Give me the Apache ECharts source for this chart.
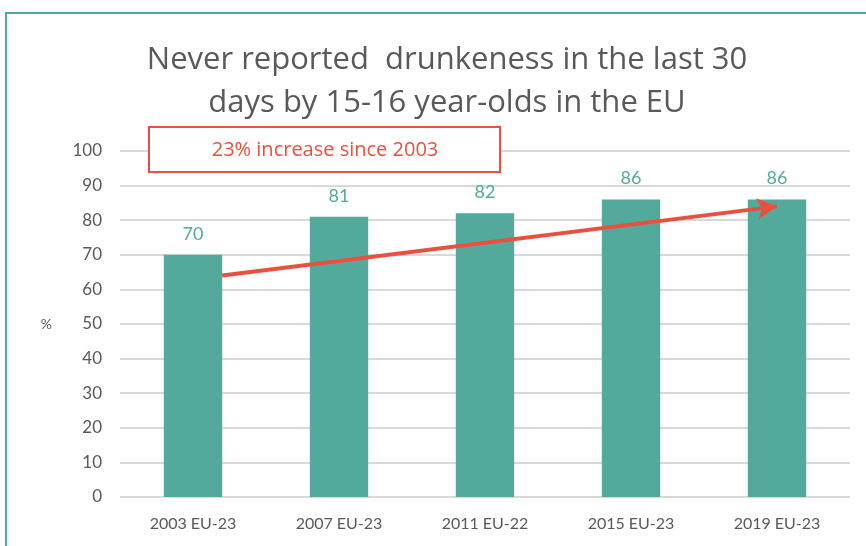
<!DOCTYPE html>
<html>
<head>
<meta charset="utf-8">
<script src="https://cdn.jsdelivr.net/npm/echarts@6/dist/echarts.min.js"></script>
<style>
  html, body { margin: 0; padding: 0; background: #fff; }
  #chart { width: 866px; height: 546px; }
</style>
</head>
<body>
<div id="chart"></div>
<script>
// Survey waves and the share of 15-16 year-olds who never reported drunkenness
const categories = ['2003 EU-23', '2007 EU-23', '2011 EU-22', '2015 EU-23', '2019 EU-23'];
const values = [70, 81, 82, 86, 86];
const yTicks = { min: 0, max: 100, interval: 10 };

// Trend arrow endpoints: [category position, percent]
const trendStart = [0.2, 64];
const trendEnd = [4.0, 84];
const trendNote = '23% increase since 2003';

const TEAL = '#54a99d';
const RED = '#e8513f';
const GREY = '#595959';
const FONT = 'Lato, "Open Sans", sans-serif';
const WIDE = '"Open Sans", Lato, sans-serif';

const chart = echarts.init(document.getElementById('chart'), null, { renderer: 'canvas' });

chart.setOption({
  backgroundColor: '#fff',
  animation: false,
  title: {
    text: 'Never reported  drunkeness in the last 30\ndays by 15-16 year-olds in the EU',
    left: 442,
    textAlign: 'center',
    top: 34,
    textStyle: {
      fontFamily: WIDE,
      fontSize: 31,
      fontWeight: 'normal',
      color: GREY,
      lineHeight: 43
    }
  },
  grid: { left: 120, right: 16, top: 151, bottom: 49, containLabel: false },
  xAxis: [
    {
      type: 'category',
      data: categories,
      axisLine: { show: false },
      axisTick: { show: false },
      axisLabel: { color: GREY, fontFamily: FONT, fontSize: 16, margin: 19 }
    },
    {
      type: 'value',
      min: -0.5,
      max: 4.5,
      show: false
    }
  ],
  yAxis: {
    type: 'value',
    min: yTicks.min,
    max: yTicks.max,
    interval: yTicks.interval,
    name: '%',
    nameLocation: 'middle',
    nameRotate: 0,
    nameGap: 68,
    nameTextStyle: { color: GREY, fontFamily: FONT, fontSize: 14 },
    axisLine: { show: false },
    axisTick: { show: false },
    axisLabel: { color: GREY, fontFamily: FONT, fontSize: 17, margin: 18 },
    splitLine: { lineStyle: { color: '#d9d9d9', width: 2 } }
  },
  series: [
    {
      type: 'bar',
      data: values,
      barWidth: '40%',
      itemStyle: { color: TEAL },
      label: {
        show: true,
        position: 'top',
        distance: 12,
        color: TEAL,
        fontFamily: FONT,
        fontSize: 18
      }
    },
    {
      type: 'line',
      xAxisIndex: 1,
      data: [],
      silent: true,
      markLine: {
        silent: true,
        symbol: ['none', 'arrow'],
        symbolSize: [16, 20],
        label: { show: false },
        lineStyle: { color: RED, width: 4, type: 'solid' },
        data: [[{ coord: trendStart }, { coord: trendEnd }]]
      }
    }
  ],
  graphic: [
    {
      type: 'rect',
      shape: { x: 6, y: 13, width: 900, height: 600 },
      style: { fill: 'none', stroke: '#4fa89a', lineWidth: 2 },
      z: 100
    },
    {
      type: 'rect',
      shape: { x: 149, y: 127, width: 351, height: 45 },
      style: { fill: '#fff', stroke: RED, lineWidth: 2 },
      z: 50
    },
    {
      type: 'text',
      x: 325,
      y: 150,
      style: {
        text: trendNote,
        fill: RED,
        font: '20px ' + WIDE,
        textAlign: 'center',
        textVerticalAlign: 'middle'
      },
      z: 51
    }
  ]
});
</script>
</body>
</html>
